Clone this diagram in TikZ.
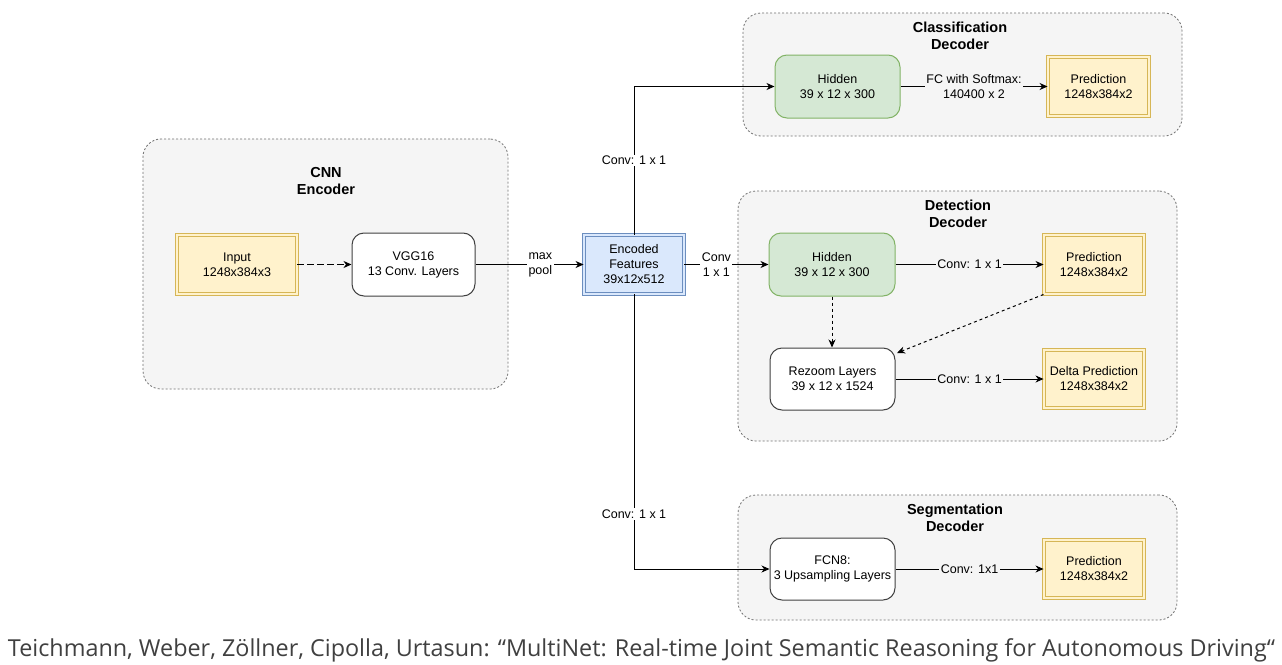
\documentclass[tikz,border=0pt]{standalone}
\usepackage{fontspec}
\setmainfont{Liberation Sans}
\newfontfamily\capfont{Open Sans}
\usetikzlibrary{arrows.meta}
\definecolor{contfill}{HTML}{F5F5F5}
\definecolor{contdraw}{HTML}{707070}
\definecolor{yfill}{HTML}{FFF2CC}
\definecolor{ydraw}{HTML}{D6B656}
\definecolor{bfill}{HTML}{DAE8FC}
\definecolor{bdraw}{HTML}{6C8EBF}
\definecolor{gfill}{HTML}{D5E8D4}
\definecolor{gdraw}{HTML}{82B366}
\definecolor{captext}{HTML}{404040}
\tikzset{
  container/.style={draw=contdraw, dash pattern=on 2pt off 2pt, fill=contfill, rounded corners=18pt, line width=0.8pt, inner sep=0pt},
  title/.style={font=\fontsize{14.5}{16.5}\selectfont\bfseries, align=center, inner sep=0pt},
  boxtext/.style={font=\fontsize{12.5}{15}\selectfont, align=center, inner sep=0pt},
  yel/.style={boxtext, draw=ydraw, double=yfill, double distance=2.2pt, line width=0.9pt, fill=yfill, minimum width=#1-4pt, minimum height=59pt},
  blu/.style={boxtext, draw=bdraw, double=bfill, double distance=2.2pt, line width=0.9pt, fill=bfill, minimum width=#1-4pt, minimum height=59pt},
  grn/.style={boxtext, draw=gdraw, fill=gfill, rounded corners=12pt, line width=1pt, minimum width=#1, minimum height=63pt},
  wht/.style={boxtext, draw=black!75, fill=white, rounded corners=12pt, line width=1pt, minimum width=#1, minimum height=62pt},
  arr/.style={draw=black, line width=1pt, -{Stealth[length=8pt,width=7pt,inset=2.5pt]}},
  dsh/.style={dash pattern=on 3pt off 3pt},
  lab/.style={boxtext, fill=white, inner sep=1.5pt},
  labc/.style={boxtext, fill=contfill, inner sep=1.5pt},
}
\begin{document}
\begin{tikzpicture}[x=1pt,y=-1pt]
\useasboundingbox[fill=white] (0,0) rectangle (1282,664);
% containers
\node[container, minimum width=365pt, minimum height=250pt] (encbox) at (325.5,264) {};
\node[container, minimum width=439pt, minimum height=123pt] (clsbox) at (962.5,74.5) {};
\node[container, minimum width=439pt, minimum height=250pt] (detbox) at (957.5,316) {};
\node[container, minimum width=439pt, minimum height=125pt] (segbox) at (957.5,557.5) {};
% titles
\node[title] (enctitle) at (326,181) {CNN\\Encoder};
\node[title] (clstitle) at (960,36) {Classification\\Decoder};
\node[title] (dettitle) at (958,214) {Detection\\Decoder};
\node[title] (segtitle) at (955,518) {Segmentation\\Decoder};
% nodes
\node[yel=124pt] (input) at (237,264.5) {Input\\1248x384x3};
\node[wht=123pt, minimum height=63pt] (vgg) at (413.5,264.5) {VGG16\\13 Conv. Layers};
\node[blu=104pt] (enc) at (634,264.5) {Encoded\\Features\\39x12x512};
\node[grn=125pt] (chid) at (837.5,86.5) {Hidden\\39 x 12 x 300};
\node[yel=105pt] (cpred) at (1098.5,86.5) {Prediction\\1248x384x2};
\node[grn=126pt] (dhid) at (832,264.5) {Hidden\\39 x 12 x 300};
\node[yel=104pt] (dpred) at (1094,264.5) {Prediction\\1248x384x2};
\node[wht=125pt] (rez) at (832.5,379) {Rezoom Layers\\39 x 12 x 1524};
\node[yel=104pt, minimum height=58pt] (delta) at (1094,379) {Delta Prediction\\1248x384x2};
\node[wht=125pt] (fcn) at (832.5,569) {FCN8:\\3 Upsampling Layers};
\node[yel=104pt, minimum height=58pt] (spred) at (1094,569) {Prediction\\1248x384x2};
\coordinate (rezin) at (897,353);
% connectors
\draw[arr, dash pattern=on 7pt off 3pt] (input) -- (vgg);
\draw[arr] (vgg) -- node[lab, pos=0.6]{max\\pool} (enc);
\draw[arr] (enc.north) |- node[lab, pos=0.25]{Conv: 1 x 1} (chid.west);
\draw[arr] (enc.south) |- node[lab, pos=0.40]{Conv: 1 x 1} (fcn.west);
\draw[arr] (enc) -- node[lab, pos=0.38]{Conv\\1 x 1} (dhid);
\draw[arr] (chid) -- node[labc]{FC with Softmax:\\140400 x 2} (cpred);
\draw[arr] (dhid) -- node[labc]{Conv: 1 x 1} (dpred);
\draw[arr, dsh] (dhid.south) -- (dhid.south |- rez.north);
\draw[arr, dsh] (dpred.south west) -- (rezin);
\draw[arr] (rez) -- node[labc]{Conv: 1 x 1} (delta);
\draw[arr] (fcn) -- node[labc]{Conv: 1x1} (spred);
% caption
\node[anchor=base, inner sep=0pt, text=captext] (caption) at (641.5,656) {\resizebox{1267pt}{!}{\capfont\fontsize{21}{25}\selectfont Teichmann, Weber, Zöllner, Cipolla, Urtasun: “MultiNet: Real-time Joint Semantic Reasoning for Autonomous Driving“}};
\end{tikzpicture}
\end{document}
